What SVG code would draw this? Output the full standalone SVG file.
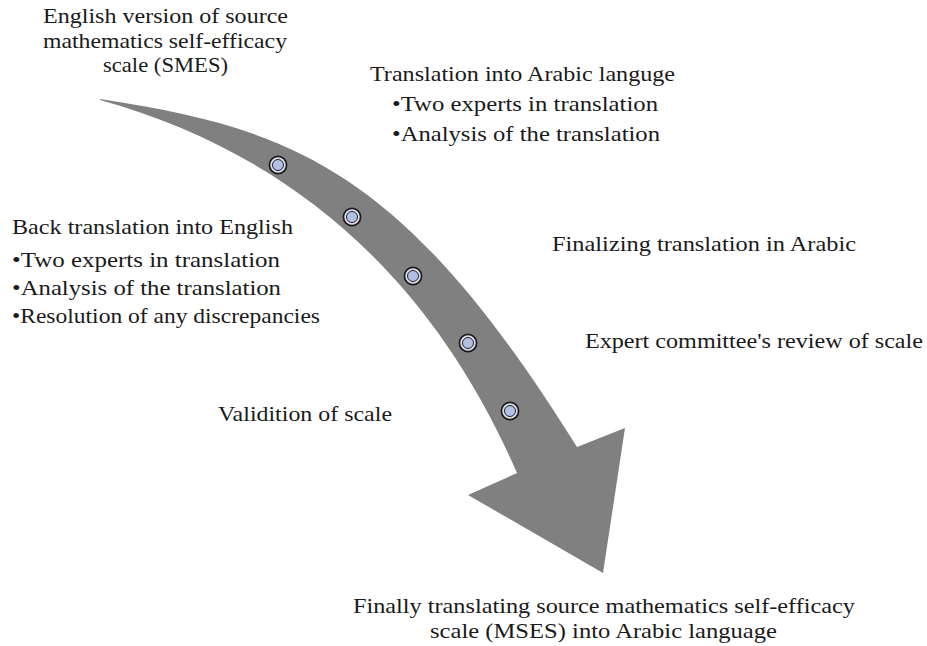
<svg xmlns="http://www.w3.org/2000/svg" width="927" height="646" viewBox="0 0 927 646">
<style>
text{font-family:"Liberation Serif","DejaVu Serif","Noto Serif","Times New Roman",serif;font-size:21px;fill:#1a1a1a}
.arrow{fill:#808080}
.ring{fill:#d9deea;stroke:#1a1a1a;stroke-width:1.7}
.core{fill:#b3c0e6;stroke:#262626;stroke-width:1}
</style>
<defs>
<g id="dot"><circle class="ring" r="8.6"/><circle class="core" r="5.5"/></g>
</defs>
<rect width="927" height="646" fill="#fff"/>
<g id="connectors">
<path class="arrow" d="M100,99 C300,129 407,175 577,447 L625,428 L603,573 L468,495 L517,473 C427,266 280,150 100,100 Z"/>
<use href="#dot" x="278" y="165"/>
<use href="#dot" x="352" y="217"/>
<use href="#dot" x="413" y="276"/>
<use href="#dot" x="468" y="343"/>
<use href="#dot" x="510" y="411"/>
</g>
<g id="node-source" font-family="Liberation Serif, DejaVu Serif, serif">
<text x="43" y="23" textLength="245" lengthAdjust="spacingAndGlyphs">English version of source</text>
<text x="43" y="48" textLength="244" lengthAdjust="spacingAndGlyphs">mathematics self-efficacy</text>
<text x="103" y="72" textLength="125" lengthAdjust="spacingAndGlyphs">scale (SMES)</text>
</g>
<g id="node-translation">
<text x="370" y="81" textLength="305" lengthAdjust="spacingAndGlyphs">Translation into Arabic languge</text>
<text x="392" y="111" textLength="266" lengthAdjust="spacingAndGlyphs">•Two experts in translation</text>
<text x="392" y="141" textLength="268" lengthAdjust="spacingAndGlyphs">•Analysis of the translation</text>
</g>
<g id="node-back">
<text x="12" y="234" textLength="281" lengthAdjust="spacingAndGlyphs">Back translation into English</text>
<text x="12" y="267" textLength="268" lengthAdjust="spacingAndGlyphs">•Two experts in translation</text>
<text x="12" y="295" textLength="269" lengthAdjust="spacingAndGlyphs">•Analysis of the translation</text>
<text x="12" y="323" textLength="308" lengthAdjust="spacingAndGlyphs">•Resolution of any discrepancies</text>
</g>
<g id="node-finalizing">
<text x="552" y="251" textLength="304" lengthAdjust="spacingAndGlyphs">Finalizing translation in Arabic</text>
</g>
<g id="node-committee">
<text x="585" y="348" textLength="338" lengthAdjust="spacingAndGlyphs">Expert committee's review of scale</text>
</g>
<g id="node-validation">
<text x="218" y="421" textLength="174" lengthAdjust="spacingAndGlyphs">Validition of scale</text>
</g>
<g id="node-final">
<text x="353" y="613" textLength="502" lengthAdjust="spacingAndGlyphs">Finally translating source mathematics self-efficacy</text>
<text x="430" y="638" textLength="347" lengthAdjust="spacingAndGlyphs">scale (MSES) into Arabic language</text>
</g>
</svg>
